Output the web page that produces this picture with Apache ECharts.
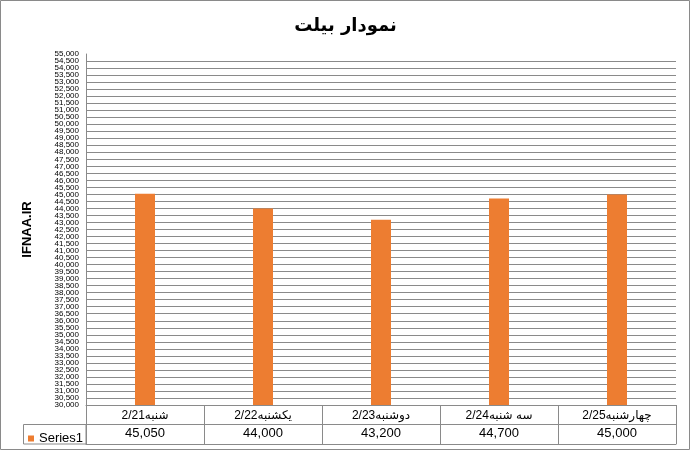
<!DOCTYPE html>
<html>
<head>
<meta charset="utf-8">
<script src="https://cdn.jsdelivr.net/npm/echarts@6/dist/echarts.min.js"></script>
<style>
  html, body { margin: 0; padding: 0; background: #fff; }
  #chart { width: 691px; height: 451px; }
</style>
</head>
<body>
<div id="chart"></div>
<script>
const titleText = 'نمودار بیلت';
const yAxisTitle = 'IFNAA.IR';
const seriesName = 'Series1';
const categories = ['2/21شنبه', '2/22یکشنبه', '2/23دوشنبه', '2/24سه شنبه', '2/25چهارشنبه'];
const values = [45050, 44000, 43200, 44700, 45000];
const yMin = 30000;
const yMax = 55000;
const yStep = 500;

const fmt = v => Number(v).toLocaleString('en-US');
const valueLabels = values.map(fmt);
const grey = '#8a8a8a';
const yLabelStyle = { margin: 7, fontFamily: 'Liberation Sans, Arial', fontSize: 8, color: '#000' };

const chart = echarts.init(document.getElementById('chart'), null, { renderer: 'canvas' });
chart.setOption({
  animation: false,
  backgroundColor: '#fff',
  title: {
    text: titleText,
    left: 'center',
    top: 12,
    textStyle: { fontFamily: 'DejaVu Sans, Arial', fontSize: 18, fontWeight: 'bold', color: '#000' }
  },
  legend: {
    data: [seriesName],
    left: 23,
    top: 427,
    icon: 'rect',
    itemWidth: 6,
    itemHeight: 6,
    itemGap: 4,
    textStyle: { fontFamily: 'Liberation Sans, Arial', fontSize: 13, color: '#000' }
  },
  grid: { left: 86, right: 15, top: 54, bottom: 46, containLabel: false },
  xAxis: [
    {
      type: 'category',
      data: categories,
      position: 'bottom',
      axisLine: { show: true, lineStyle: { color: grey, width: 1 } },
      axisTick: { show: true, length: 39, interval: 0, lineStyle: { color: grey, width: 1 } },
      axisLabel: { interval: 0, margin: 5, fontFamily: 'Liberation Sans, DejaVu Sans', fontSize: 12, color: '#000' },
      splitLine: { show: false }
    },
    {
      type: 'category',
      data: valueLabels,
      position: 'bottom',
      offset: 19,
      axisLine: { show: true, lineStyle: { color: grey, width: 1 } },
      axisTick: { show: false },
      axisLabel: { interval: 0, margin: 3, fontFamily: 'Liberation Sans, Arial', fontSize: 13, color: '#000' }
    },
    {
      type: 'category',
      data: categories,
      position: 'bottom',
      offset: 39,
      axisLine: { show: true, lineStyle: { color: grey, width: 1 } },
      axisTick: { show: false },
      axisLabel: { show: false }
    }
  ],
  yAxis: [
    {
      type: 'value',
      min: yMin,
      max: yMax,
      interval: yStep,
      position: 'left',
      name: yAxisTitle,
      nameLocation: 'middle',
      nameGap: 52,
      nameRotate: 90,
      nameTextStyle: { fontFamily: 'Liberation Sans, Arial', fontSize: 13, fontWeight: 'bold', color: '#000' },
      axisLine: { show: true, lineStyle: { color: grey, width: 1 } },
      axisTick: { show: false },
      axisLabel: Object.assign({ formatter: fmt, showMinLabel: false, showMaxLabel: false }, yLabelStyle),
      splitLine: { show: true, showMaxLine: false, lineStyle: { color: grey, width: 1 } }
    },
    {
      type: 'value',
      min: yMin,
      max: yMax,
      interval: yStep,
      position: 'left',
      axisLine: { show: false },
      axisTick: { show: false },
      splitLine: { show: false },
      axisLabel: Object.assign({
        formatter: v => (v === yMin || v === yMax) ? fmt(v) : '',
        showMinLabel: true, showMaxLabel: true
      }, yLabelStyle)
    }
  ],
  series: [
    {
      name: seriesName,
      type: 'bar',
      xAxisIndex: 0,
      yAxisIndex: 0,
      data: values,
      barWidth: 20,
      itemStyle: { color: '#ED7D31' }
    }
  ],
  graphic: [
    {
      type: 'rect',
      shape: { x: 0.5, y: 0.5, width: 689, height: 449 },
      style: { fill: 'none', stroke: grey, lineWidth: 1 },
      silent: true
    },
    {
      type: 'rect',
      shape: { x: 23.5, y: 424.5, width: 62.5, height: 19.5 },
      style: { fill: 'none', stroke: grey, lineWidth: 1 },
      silent: true
    }
  ]
});
</script>
</body>
</html>
